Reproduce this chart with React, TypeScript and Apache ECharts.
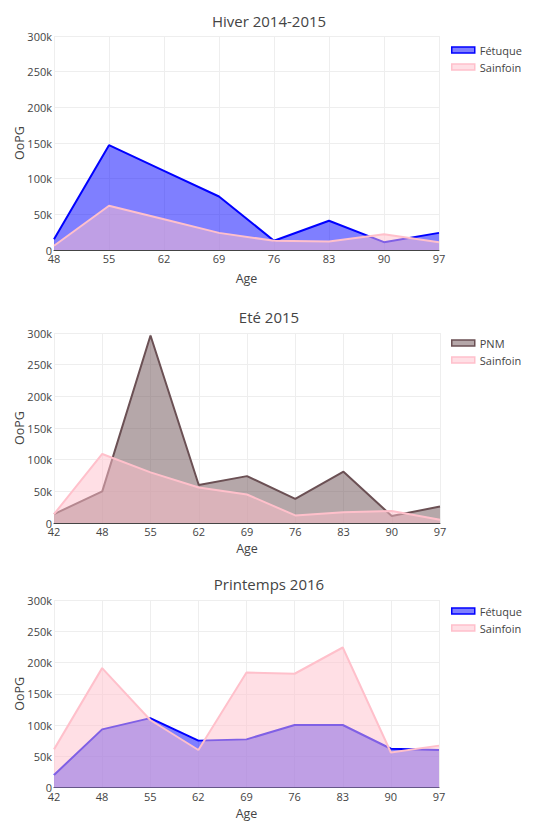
import React, { useEffect, useRef } from "react";
import * as echarts from "echarts";

const agesHiver = ["48", "55", "62", "69", "76", "83", "90", "97"];
const fetuqueHiver = [15000, 147000, 111000, 75000, 13000, 41000, 11000, 24000];
const sainfoinHiver = [6000, 62000, 43000, 24000, 13000, 12000, 22000, 11000];

const agesEte = ["42", "48", "55", "62", "69", "76", "83", "90", "97"];
const pnmEte = [14000, 50000, 296000, 60000, 74000, 38000, 81000, 11000, 26000];
const sainfoinEte = [14000, 109000, 80000, 56000, 45000, 12000, 17000, 19000, 5000];

const agesPrintemps = ["42", "48", "55", "62", "69", "76", "83", "90", "97"];
const fetuquePrintemps = [20000, 93000, 111000, 75000, 77000, 100000, 100000, 62000, 60000];
const sainfoinPrintemps = [61000, 191000, 108000, 60000, 184000, 182000, 224000, 56000, 67000];

const titles = ["Hiver 2014-2015", "Eté 2015", "Printemps 2016"];
const yTicks = { min: 0, max: 300000, interval: 50000 };

const FONT = "'Open Sans', 'DejaVu Sans', sans-serif";
const TXT = "#444";

const colors: Record<string, { line: string; fill: string }> = {
  "Fétuque": { line: "#0000ff", fill: "rgba(0,0,255,0.5)" },
  Sainfoin: { line: "#ffc0cb", fill: "rgba(255,192,203,0.5)" },
  PNM: { line: "rgb(107,80,84)", fill: "rgba(107,80,84,0.5)" },
};

export default function App() {
  const ref = useRef<HTMLDivElement>(null);
  useEffect(() => {
    if (!ref.current) return;
    const chart = echarts.init(ref.current, undefined, { renderer: "svg" });

    const grids = [
      { left: 54, width: 385, top: 36, height: 214 },
      { left: 54, width: 386, top: 333, height: 190 },
      { left: 54, width: 385, top: 600, height: 190 },
    ];
    const cats = [agesHiver, agesEte, agesPrintemps];
    const nameGaps = [22, 18.5, 19.5];
    const titleY = [20.5, 317, 584];
    const legendTop = [43, 336, 604];
    const legendNames = [
      ["Fétuque", "Sainfoin"],
      ["PNM", "Sainfoin"],
      ["Fétuque", "Sainfoin"],
    ];
    const seriesData: [string, number[]][][] = [
      [["Fétuque", fetuqueHiver], ["Sainfoin", sainfoinHiver]],
      [["PNM", pnmEte], ["Sainfoin", sainfoinEte]],
      [["Fétuque", fetuquePrintemps], ["Sainfoin", sainfoinPrintemps]],
    ];

    const series: any[] = [];
    seriesData.forEach((pair, gi) => {
      pair.forEach(([name, vals], si) => {
        series.push({
          type: "line",
          name,
          xAxisIndex: gi,
          yAxisIndex: gi,
          data: vals,
          showSymbol: false,
          symbol: "none",
          lineStyle: { color: colors[name].line, width: 2 },
          itemStyle: { color: colors[name].line },
          areaStyle: { color: colors[name].fill, opacity: 1, origin: "start" },
          z: 2 + si * 2,
        });
      });
    });

    chart.setOption({
      animation: false,
      grid: grids.map((g) => ({ ...g, containLabel: false })),
      graphic: titles.map((t, i) => ({
        type: "text",
        x: 269,
        y: titleY[i],
        style: {
          text: t,
          fontSize: 15,
          fontFamily: FONT,
          fill: TXT,
          textAlign: "center",
          textVerticalAlign: "middle",
        },
      })),
      legend: legendNames.map((names, i) => ({
        orient: "vertical",
        left: 451,
        top: legendTop[i],
        padding: 0,
        itemGap: 3,
        itemWidth: 23,
        itemHeight: 6,
        selectedMode: false,
        textStyle: { fontSize: 11, fontFamily: FONT, color: TXT, lineHeight: 14 },
        data: names.map((n) => ({
          name: n,
          icon: "rect",
          itemStyle: {
            color: colors[n].fill,
            borderColor: colors[n].line,
            borderWidth: 1.5,
          },
        })),
      })),
      xAxis: cats.map((c, i) => ({
        type: "category",
        gridIndex: i,
        data: c,
        boundaryGap: false,
        name: "Age",
        nameLocation: "middle",
        nameGap: nameGaps[i],
        nameMoveOverlap: false,
        nameTextStyle: { fontSize: 12.5, fontFamily: FONT, color: TXT },
        axisLine: { show: true, lineStyle: { color: "#444", width: 1 } },
        axisTick: { show: false },
        axisLabel: { fontSize: 11, fontFamily: FONT, color: TXT, margin: 3 },
        splitLine: { show: true, lineStyle: { color: "#eee", width: 1 } },
      })),
      yAxis: cats.map((_, i) => ({
        type: "value",
        gridIndex: i,
        min: yTicks.min,
        max: yTicks.max,
        interval: yTicks.interval,
        name: "OoPG",
        nameLocation: "middle",
        nameGap: 28,
        nameMoveOverlap: false,
        nameTextStyle: { fontSize: 12.5, fontFamily: FONT, color: TXT },
        axisLine: { show: false },
        axisTick: { show: false },
        axisLabel: {
          fontSize: 11,
          fontFamily: FONT,
          color: TXT,
          margin: 2,
          formatter: (v: number) => (v === 0 ? "0" : v / 1000 + "k"),
        },
        splitLine: { show: true, lineStyle: { color: "#eee", width: 1 } },
      })),
      series,
    });

    return () => chart.dispose();
  }, []);

  return (
    <div
      ref={ref}
      style={{ position: "absolute", left: 0, top: 0, width: 547, height: 821, background: "#fff" }}
    />
  );
}
